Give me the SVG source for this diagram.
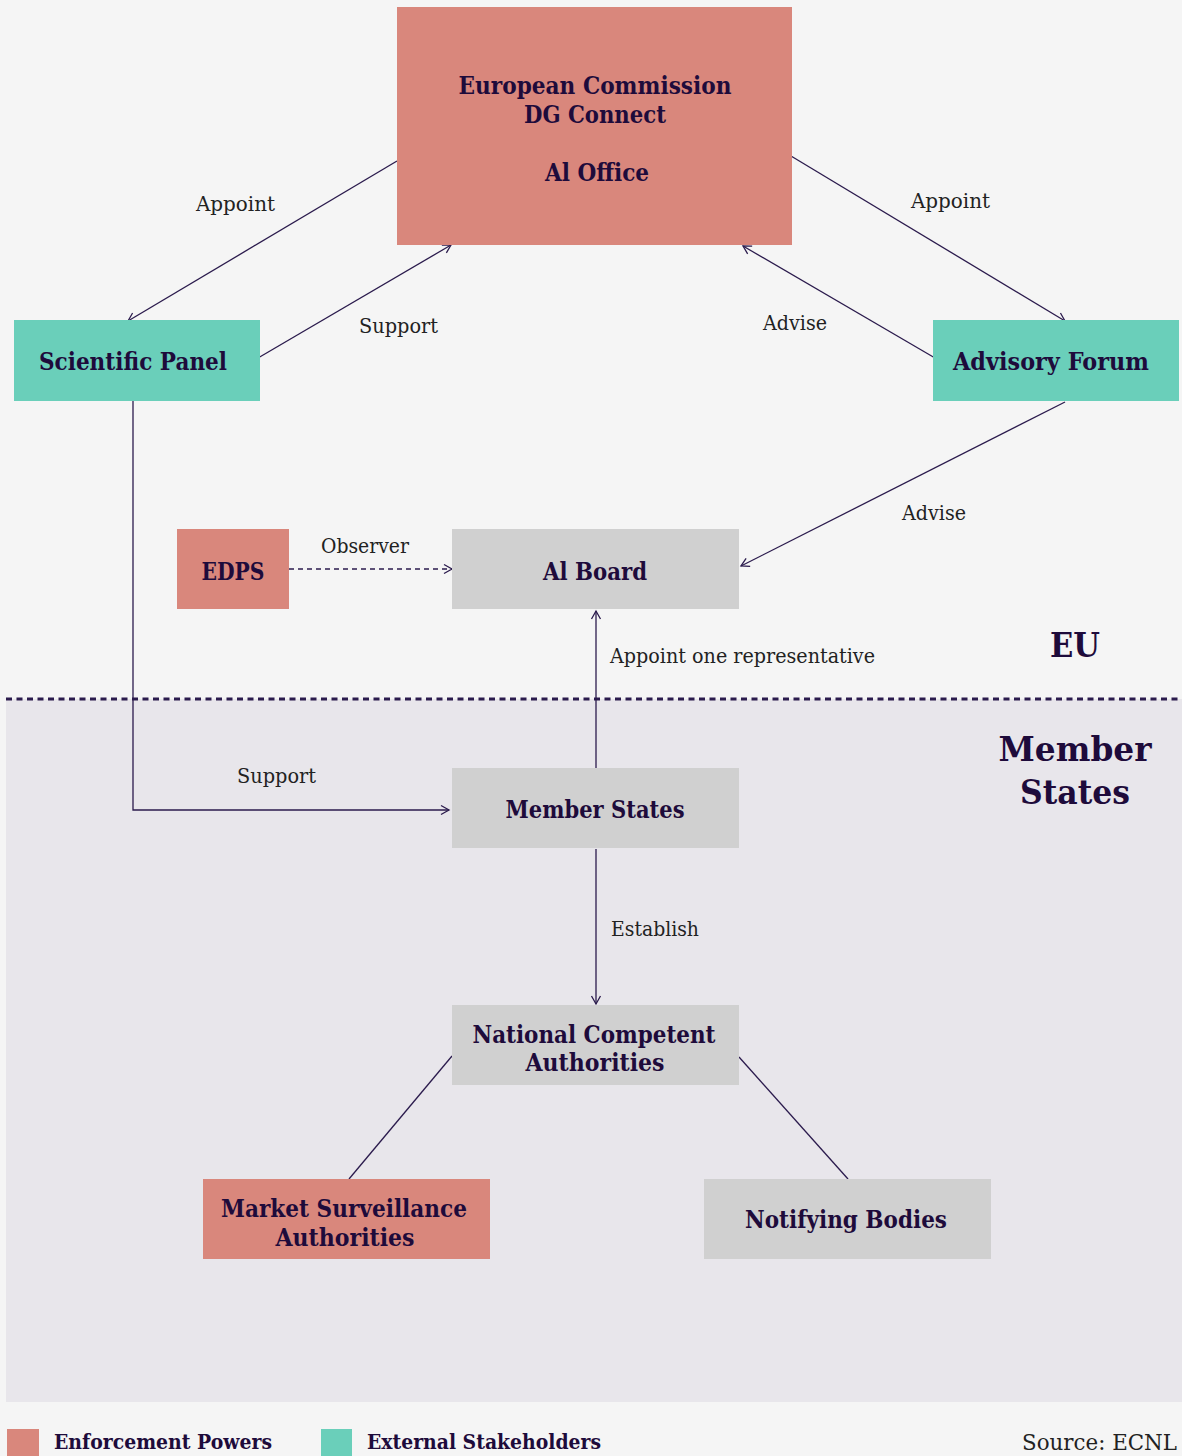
<svg xmlns="http://www.w3.org/2000/svg" width="1182" height="1456" viewBox="0 0 1182 1456">
<defs>
<marker id="arr" markerUnits="userSpaceOnUse" markerWidth="12" markerHeight="12" refX="9" refY="5" orient="auto" viewBox="0 0 12 10">
<path d="M1,0.5 L9,5 L1,9.5" fill="none" stroke="#2b1b4d" stroke-width="1.3"/>
</marker>
</defs>
<style>
.bg{fill:#f5f5f5}
.ms{fill:#e8e6eb}
.sal{fill:#d9877c}
.teal{fill:#6acfba}
.gray{fill:#d0d0d0}
.t{font-family:"DejaVu Serif","Liberation Serif",serif;font-weight:bold;font-size:23.5px;fill:#1e0b3b;text-anchor:middle}
.big{font-family:"DejaVu Serif","Liberation Serif",serif;font-weight:bold;font-size:33px;fill:#1e0b3b;text-anchor:middle}
.lab{font-family:"DejaVu Serif","Liberation Serif",serif;font-size:20px;fill:#222222}
.leg{font-family:"DejaVu Serif","Liberation Serif",serif;font-weight:bold;font-size:21px;fill:#1e0b3b}
.c{fill:none;stroke:#2b1b4d;stroke-width:1.3}
</style>
<rect class="bg" x="0" y="0" width="1182" height="1456"/>
<rect class="ms" x="6" y="699" width="1176" height="703"/>
<line x1="6" y1="699" x2="1182" y2="699" stroke="#2b1b4d" stroke-width="3" stroke-dasharray="6,4.5"/>

<g id="connectors">
<line class="c" x1="397" y1="161" x2="128" y2="321" marker-end="url(#arr)"/>
<line class="c" x1="258" y1="358" x2="451" y2="245" marker-end="url(#arr)"/>
<line class="c" x1="791" y1="156" x2="1065" y2="321" marker-end="url(#arr)"/>
<line class="c" x1="935" y1="358" x2="743" y2="246" marker-end="url(#arr)"/>
<line class="c" x1="1065" y1="402" x2="741" y2="566" marker-end="url(#arr)"/>
<line class="c" x1="289" y1="569" x2="452" y2="569" stroke-dasharray="5,4" marker-end="url(#arr)"/>
<line class="c" x1="596" y1="768" x2="596" y2="611" marker-end="url(#arr)"/>
<polyline class="c" points="133,401 133,810 449,810" marker-end="url(#arr)"/>
<line class="c" x1="596" y1="849" x2="596" y2="1004" marker-end="url(#arr)"/>
<line class="c" x1="452" y1="1056" x2="349" y2="1179"/>
<line class="c" x1="739" y1="1057" x2="848" y2="1179"/>
<text class="lab" x="196" y="211" textLength="79" lengthAdjust="spacingAndGlyphs">Appoint</text>
<text class="lab" x="359" y="333" textLength="79" lengthAdjust="spacingAndGlyphs">Support</text>
<text class="lab" x="911" y="208" textLength="79" lengthAdjust="spacingAndGlyphs">Appoint</text>
<text class="lab" x="763" y="330" textLength="64" lengthAdjust="spacingAndGlyphs">Advise</text>
<text class="lab" x="902" y="520" textLength="64" lengthAdjust="spacingAndGlyphs">Advise</text>
<text class="lab" x="321" y="553" textLength="88" lengthAdjust="spacingAndGlyphs">Observer</text>
<text class="lab" x="610" y="663" textLength="265" lengthAdjust="spacingAndGlyphs">Appoint one representative</text>
<text class="lab" x="237" y="783" textLength="79" lengthAdjust="spacingAndGlyphs">Support</text>
<text class="lab" x="611" y="936" textLength="88" lengthAdjust="spacingAndGlyphs">Establish</text>
</g>

<g id="ec">
<rect class="sal" x="397" y="7" width="395" height="238"/>
<text class="t" x="595" y="94" textLength="273" lengthAdjust="spacingAndGlyphs">European Commission</text>
<text class="t" x="595" y="123" textLength="142" lengthAdjust="spacingAndGlyphs">DG Connect</text>
<text class="t" x="597" y="181" textLength="104" lengthAdjust="spacingAndGlyphs">Al Office</text>
</g>
<g id="scientific-panel">
<rect class="teal" x="14" y="320" width="246" height="81"/>
<text class="t" x="133" y="370" textLength="188" lengthAdjust="spacingAndGlyphs">Scientific Panel</text>
</g>
<g id="advisory-forum">
<rect class="teal" x="933" y="320" width="246" height="81"/>
<text class="t" x="1051" y="370" textLength="196" lengthAdjust="spacingAndGlyphs">Advisory Forum</text>
</g>
<g id="edps">
<rect class="sal" x="177" y="529" width="112" height="80"/>
<text class="t" x="233" y="580" textLength="63" lengthAdjust="spacingAndGlyphs">EDPS</text>
</g>
<g id="ai-board">
<rect class="gray" x="452" y="529" width="287" height="80"/>
<text class="t" x="595" y="580" textLength="104" lengthAdjust="spacingAndGlyphs">Al Board</text>
</g>
<g id="member-states">
<rect class="gray" x="452" y="768" width="287" height="80"/>
<text class="t" x="595" y="818" textLength="179" lengthAdjust="spacingAndGlyphs">Member States</text>
</g>
<g id="nca">
<rect class="gray" x="452" y="1005" width="287" height="80"/>
<text class="t" x="594" y="1043" textLength="243" lengthAdjust="spacingAndGlyphs">National Competent</text>
<text class="t" x="595" y="1071" textLength="139" lengthAdjust="spacingAndGlyphs">Authorities</text>
</g>
<g id="msa">
<rect class="sal" x="203" y="1179" width="287" height="80"/>
<text class="t" x="344" y="1217" textLength="246" lengthAdjust="spacingAndGlyphs">Market Surveillance</text>
<text class="t" x="345" y="1246" textLength="139" lengthAdjust="spacingAndGlyphs">Authorities</text>
</g>
<g id="notifying-bodies">
<rect class="gray" x="704" y="1179" width="287" height="80"/>
<text class="t" x="846" y="1228" textLength="202" lengthAdjust="spacingAndGlyphs">Notifying Bodies</text>
</g>

<g id="zones">
<text class="big" x="1075" y="657" textLength="50" lengthAdjust="spacingAndGlyphs">EU</text>
<text class="big" x="1075" y="761" textLength="153" lengthAdjust="spacingAndGlyphs">Member</text>
<text class="big" x="1075" y="804" textLength="110" lengthAdjust="spacingAndGlyphs">States</text>
</g>

<g id="legend">
<rect class="sal" x="7" y="1429" width="32" height="27"/>
<text class="leg" x="54" y="1449" textLength="218" lengthAdjust="spacingAndGlyphs">Enforcement Powers</text>
<rect class="teal" x="321" y="1429" width="31" height="27"/>
<text class="leg" x="367" y="1449" textLength="234" lengthAdjust="spacingAndGlyphs">External Stakeholders</text>
<text class="lab" x="1177" y="1450" text-anchor="end" style="font-size:22px" textLength="155" lengthAdjust="spacingAndGlyphs">Source: ECNL</text>
</g>
</svg>
